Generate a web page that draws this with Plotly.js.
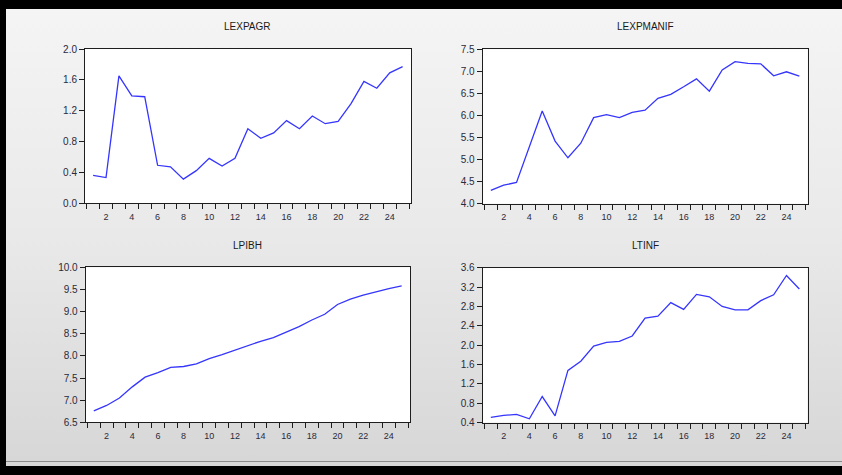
<!DOCTYPE html>
<html>
<head>
<meta charset="utf-8">
<script src="https://cdn.plot.ly/plotly-3.0.1.min.js"></script>
<style>
  html, body { margin: 0; padding: 0; width: 842px; height: 475px; overflow: hidden; }
  body { background: linear-gradient(to bottom, #f5f5f5 0%, #e9e9e9 50%, #d6d6d6 100%); position: relative; }
  .bar { position: absolute; background: #000; }
  #top { left: 0; top: 0; width: 842px; height: 9px; }
  #left { left: 0; top: 0; width: 6px; height: 475px; }
  #bottom { left: 0; top: 466px; width: 842px; height: 9px; }
  #rule { position: absolute; left: 6px; top: 461px; width: 836px; height: 1px; background: #8a8a8a; }
  #chart { position: absolute; left: 0; top: 0; width: 842px; height: 475px; }
</style>
</head>
<body>
<div class="bar" id="top"></div>
<div class="bar" id="left"></div>
<div class="bar" id="bottom"></div>
<div id="rule"></div>
<div id="chart"></div>
<script>
// Observation index (1..25)
const obs = Array.from({length: 25}, (_, i) => i + 1);

// Series (log values)
const lexpagr = [0.36, 0.33, 1.65, 1.39, 1.38, 0.49, 0.47, 0.31, 0.42, 0.58,
                 0.48, 0.58, 0.965, 0.84, 0.91, 1.07, 0.965, 1.13, 1.03, 1.06,
                 1.29, 1.58, 1.49, 1.69, 1.77];
const lexpmanif = [4.30, 4.42, 4.48, 5.28, 6.10, 5.42, 5.04, 5.37, 5.95, 6.02,
                   5.95, 6.07, 6.12, 6.39, 6.48, 6.65, 6.83, 6.55, 7.03, 7.22,
                   7.18, 7.17, 6.90, 6.99, 6.89];
const lpibh = [6.76, 6.88, 7.05, 7.30, 7.52, 7.62, 7.74, 7.76, 7.82, 7.94,
               8.03, 8.13, 8.24, 8.33, 8.41, 8.53, 8.66, 8.81, 8.94, 9.16,
               9.28, 9.37, 9.45, 9.52, 9.58];
const ltinf = [0.51, 0.55, 0.57, 0.48, 0.94, 0.54, 1.48, 1.67, 1.98, 2.06,
               2.08, 2.19, 2.56, 2.60, 2.88, 2.74, 3.05, 3.00, 2.80, 2.73,
               2.73, 2.92, 3.04, 3.44, 3.16];

// Panel titles and x tick labels
const titles = ['LEXPAGR', 'LEXPMANIF', 'LPIBH', 'LTINF'];
const xLabelVals = [2, 4, 6, 8, 10, 12, 14, 16, 18, 20, 22, 24];
const xBoundaryTicks = Array.from({length: 26}, (_, i) => i + 0.5);

const panels = [
  {y: lexpagr,   yr: [0.0, 2.0],  dt: 0.4, dx: [0.10095, 0.48812], dy: [0.57263, 0.89684]},
  {y: lexpmanif, yr: [4.0, 7.5],  dt: 0.5, dx: [0.57328, 0.95926], dy: [0.57120, 0.89620]},
  {y: lpibh,     yr: [6.5, 10.0], dt: 0.5, dx: [0.10178, 0.48694], dy: [0.11095, 0.43726]},
  {y: ltinf,     yr: [0.4, 3.6],  dt: 0.4, dx: [0.57328, 0.95926], dy: [0.11011, 0.43642]}
];

const FONT = 'Liberation Sans, Arial, sans-serif';
const traces = [];
const layout = {
  width: 842, height: 475,
  margin: {l: 0, r: 0, t: 0, b: 0},
  paper_bgcolor: 'rgba(0,0,0,0)',
  plot_bgcolor: '#ffffff',
  showlegend: false,
  annotations: []
};

panels.forEach((p, i) => {
  const n = i + 1;
  const xa = n === 1 ? 'xaxis' : 'xaxis' + n;
  const ya = n === 1 ? 'yaxis' : 'yaxis' + n;
  traces.push({
    x: obs, y: p.y, type: 'scatter', mode: 'lines',
    xaxis: 'x' + (n === 1 ? '' : n), yaxis: 'y' + (n === 1 ? '' : n),
    line: {color: '#3535ff', width: 1.3},
    hoverinfo: 'skip'
  });
  layout[xa] = {
    domain: p.dx, anchor: 'y' + (n === 1 ? '' : n),
    range: [0.37, 25.65], fixedrange: true,
    showline: true, mirror: true, linecolor: '#1e1e1e', linewidth: 1,
    showgrid: false, zeroline: false,
    tickmode: 'array', tickvals: xLabelVals,
    ticks: 'outside', ticklen: 5, tickcolor: 'rgba(0,0,0,0)',
    tickfont: {family: FONT, size: 9, color: '#2a2a3a'},
    minor: {tickmode: 'array', tickvals: xBoundaryTicks, ticks: 'outside',
            ticklen: 5, tickwidth: 1, tickcolor: '#1e1e1e', showgrid: false}
  };
  layout[ya] = {
    domain: p.dy, anchor: 'x' + (n === 1 ? '' : n),
    range: p.yr, fixedrange: true,
    showline: true, mirror: true, linecolor: '#1e1e1e', linewidth: 1,
    showgrid: false, zeroline: false,
    tick0: p.yr[0], dtick: p.dt, tickformat: '.1f',
    ticks: 'outside', ticklen: 5, tickwidth: 1, tickcolor: '#1e1e1e',
    tickfont: {family: FONT, size: 10, color: '#2a2a3a'}
  };
  layout.annotations.push({
    text: titles[i], xref: 'paper', yref: 'paper',
    x: (p.dx[0] + p.dx[1]) / 2, y: n <= 2 ? 0.9432 : 0.4842,
    xanchor: 'center', yanchor: 'middle', showarrow: false,
    font: {family: FONT, size: 10, color: '#1a1a1a'}
  });
});

Plotly.newPlot('chart', traces, layout, {staticPlot: true, displayModeBar: false});
</script>
</body>
</html>
